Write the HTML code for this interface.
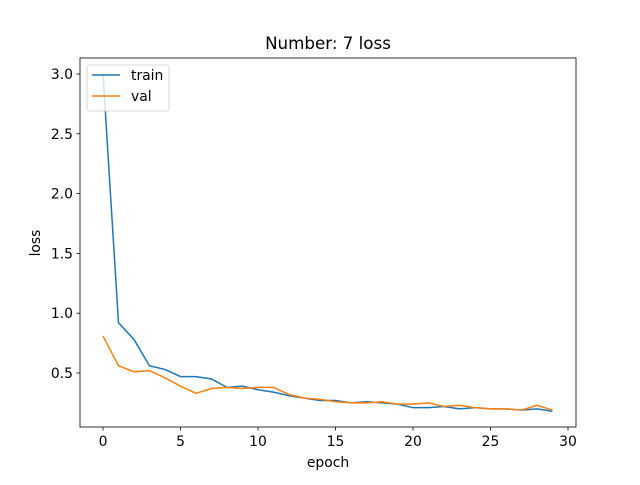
<!DOCTYPE html>
<html><head><meta charset="utf-8"><style>
body{margin:0;background:#fff;font-family:"Liberation Sans","DejaVu Sans",sans-serif}
svg text{font-family:"DejaVu Sans","Liberation Sans",sans-serif}
</style></head><body>
<svg id="chart" width="640" height="480" xmlns="http://www.w3.org/2000/svg">
<rect width="640" height="480" fill="#fff"/>
<text x="328" y="49" font-size="16.7" text-anchor="middle">Number: 7 loss</text>
<g id="axes"></g>
<text x="328" y="467" font-size="13.9" text-anchor="middle">epoch</text>
<text x="40" y="243" font-size="13.9" text-anchor="middle" transform="rotate(-90 40 243)">loss</text>
</svg>
<script>
const epochs=[0,1,2,3,4,5,6,7,8,9,10,11,12,13,14,15,16,17,18,19,20,21,22,23,24,25,26,27,28,29];
const trainLoss=[3.0,0.92,0.78,0.56,0.53,0.47,0.47,0.45,0.38,0.39,0.36,0.34,0.31,0.29,0.27,0.27,0.25,0.26,0.25,0.24,0.21,0.21,0.22,0.20,0.21,0.20,0.20,0.19,0.20,0.18];
const valLoss=[0.81,0.56,0.51,0.52,0.46,0.39,0.33,0.37,0.38,0.37,0.38,0.38,0.32,0.29,0.28,0.26,0.25,0.25,0.26,0.24,0.24,0.25,0.22,0.23,0.21,0.20,0.20,0.19,0.23,0.19];
const xTicks=[0,5,10,15,20,25,30];
const yTicks=[0.5,1.0,1.5,2.0,2.5,3.0];
const NS="http://www.w3.org/2000/svg";
const L=80,R=576,T=58,B=427;
const xs=v=>103+v*(568-103)/30;
const ys=v=>373-(v-0.5)*(373-74)/2.5;
const g=document.getElementById('axes');
function mk(t,a){const e=document.createElementNS(NS,t);for(const k in a)e.setAttribute(k,a[k]);g.appendChild(e);return e;}
function line(data,color,name){
  const p=mk('polyline',{points:data.map((v,i)=>xs(epochs[i])+','+ys(v)).join(' '),fill:'none',stroke:color,'stroke-width':1.5});
  
  
}
line(trainLoss,'#1f77b4','train-line');
line(valLoss,'#ff7f0e','val-line');
const fr=mk('rect',{x:L,y:T,width:R-L,height:B-T,fill:'none',stroke:'#000','stroke-width':0.8});


xTicks.forEach(t=>{
  mk('line',{x1:xs(t),x2:xs(t),y1:B,y2:B+3.5,stroke:'#000','stroke-width':0.8});
  const tx=mk('text',{x:xs(t),y:B+19,'font-size':13.9,'text-anchor':'middle'});tx.textContent=t;
  
  
});
yTicks.forEach(t=>{
  mk('line',{x1:L-3.5,x2:L,y1:ys(t),y2:ys(t),stroke:'#000','stroke-width':0.8});
  const tx=mk('text',{x:L-7,y:ys(t)+5,'font-size':13.9,'text-anchor':'end'});tx.textContent=t.toFixed(1);
  
  
});
const lg=mk('rect',{x:87,y:65,width:82,height:46,rx:2,fill:'#fff','fill-opacity':0.8,stroke:'#ccc','stroke-width':0.8});


[['train','#1f77b4',80],['val','#ff7f0e',101]].forEach(([n,c,y])=>{
  mk('line',{x1:92,x2:120,y1:y-5,y2:y-5,stroke:c,'stroke-width':1.5});
  const tx=mk('text',{x:131,y:y,'font-size':13.9});tx.textContent=n;
  
  
});
</script>
</body></html>
